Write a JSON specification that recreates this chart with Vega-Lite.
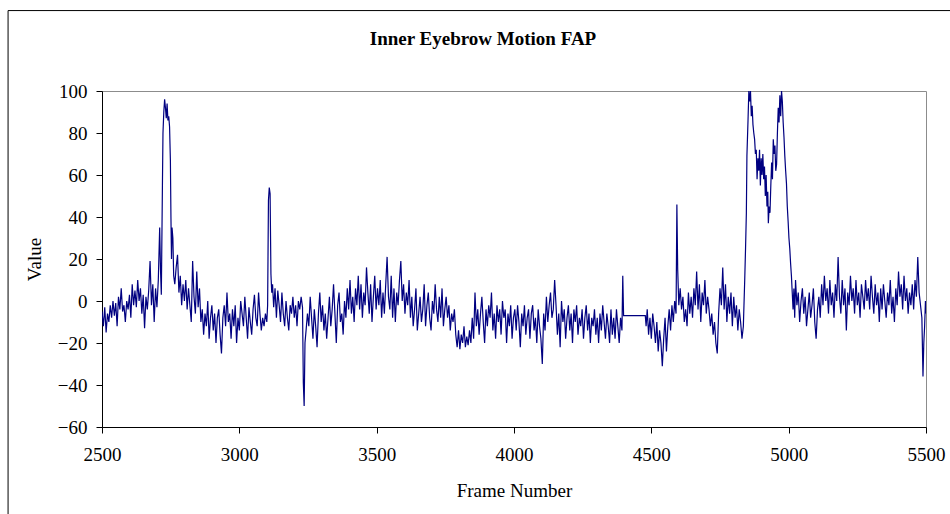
{
"$schema": "https://vega.github.io/schema/vega-lite/v6.json",
"width": 824, "height": 336,
"autosize": "none",
"padding": {"left": 102, "top": 91, "right": 24, "bottom": 87},
"background": "white",
"config": {"view": {"stroke": "#8c8c8c", "strokeWidth": 1}, "font": "Liberation Serif"},
"title": {"text": "Inner Eyebrow Motion FAP", "font": "Liberation Serif", "fontSize": 19, "fontWeight": "bold", "color": "black", "anchor": "middle", "frame": "group", "baseline": "alphabetic", "dx": -31, "offset": 0, "dy": 54},
"data": {"values": [
{"frame":2500,"value":-5},{"frame":2505,"value":-12},{"frame":2510,"value":-3},{"frame":2515,"value":-15},{"frame":2520,"value":-6},{"frame":2525,"value":-10},{"frame":2530,"value":-2},{"frame":2535,"value":-8},{"frame":2540,"value":0},{"frame":2545,"value":-7},{"frame":2550,"value":-1},{"frame":2555,"value":-12},{"frame":2560,"value":2},{"frame":2565,"value":-4},{"frame":2570,"value":6},{"frame":2575,"value":-5},{"frame":2580,"value":-2},{"frame":2585,"value":-10},{"frame":2590,"value":0},{"frame":2595,"value":-4},{"frame":2600,"value":3},{"frame":2605,"value":-8},{"frame":2610,"value":8},{"frame":2615,"value":-2},{"frame":2620,"value":5},{"frame":2625,"value":-3},{"frame":2630,"value":10},{"frame":2635,"value":0},{"frame":2640,"value":6},{"frame":2645,"value":-6},{"frame":2650,"value":3},{"frame":2655,"value":-13},{"frame":2660,"value":2},{"frame":2665,"value":-4},{"frame":2670,"value":5},{"frame":2675,"value":19},{"frame":2680,"value":-2},{"frame":2685,"value":8},{"frame":2690,"value":-10},{"frame":2695,"value":6},{"frame":2700,"value":-3},{"frame":2705,"value":10},{"frame":2710,"value":35},{"frame":2713,"value":15},{"frame":2716,"value":3},{"frame":2720,"value":55},{"frame":2722,"value":80},{"frame":2725,"value":90},{"frame":2728,"value":96},{"frame":2731,"value":92},{"frame":2734,"value":87},{"frame":2737,"value":94},{"frame":2740,"value":86},{"frame":2743,"value":88},{"frame":2746,"value":83},{"frame":2749,"value":67},{"frame":2751,"value":40},{"frame":2753,"value":20},{"frame":2755,"value":35},{"frame":2758,"value":30},{"frame":2761,"value":12},{"frame":2765,"value":8},{"frame":2770,"value":16},{"frame":2775,"value":22},{"frame":2780,"value":4},{"frame":2785,"value":12},{"frame":2790,"value":-2},{"frame":2795,"value":8},{"frame":2800,"value":0},{"frame":2805,"value":10},{"frame":2810,"value":-4},{"frame":2815,"value":6},{"frame":2820,"value":-2},{"frame":2825,"value":-10},{"frame":2830,"value":19},{"frame":2835,"value":2},{"frame":2840,"value":-6},{"frame":2845,"value":14},{"frame":2850,"value":-3},{"frame":2855,"value":6},{"frame":2860,"value":-10},{"frame":2865,"value":-4},{"frame":2870,"value":-16},{"frame":2875,"value":-6},{"frame":2880,"value":-12},{"frame":2885,"value":0},{"frame":2890,"value":-18},{"frame":2895,"value":-8},{"frame":2900,"value":-2},{"frame":2905,"value":-14},{"frame":2910,"value":-6},{"frame":2915,"value":-20},{"frame":2920,"value":-8},{"frame":2925,"value":-4},{"frame":2930,"value":-16},{"frame":2935,"value":-25},{"frame":2940,"value":-8},{"frame":2945,"value":-2},{"frame":2950,"value":-12},{"frame":2955,"value":4},{"frame":2960,"value":-10},{"frame":2965,"value":-6},{"frame":2970,"value":-18},{"frame":2975,"value":-4},{"frame":2980,"value":-12},{"frame":2985,"value":-2},{"frame":2990,"value":-20},{"frame":2995,"value":-8},{"frame":3000,"value":-14},{"frame":3005,"value":0},{"frame":3010,"value":-6},{"frame":3015,"value":-12},{"frame":3020,"value":2},{"frame":3025,"value":-8},{"frame":3030,"value":-18},{"frame":3035,"value":-3},{"frame":3040,"value":-10},{"frame":3045,"value":-16},{"frame":3050,"value":-4},{"frame":3055,"value":3},{"frame":3060,"value":-8},{"frame":3065,"value":-12},{"frame":3070,"value":4},{"frame":3075,"value":-6},{"frame":3080,"value":-14},{"frame":3085,"value":-8},{"frame":3090,"value":-12},{"frame":3095,"value":-6},{"frame":3100,"value":-10},{"frame":3103,"value":-2},{"frame":3106,"value":48},{"frame":3109,"value":54},{"frame":3112,"value":51},{"frame":3115,"value":13},{"frame":3118,"value":4},{"frame":3121,"value":8},{"frame":3125,"value":-3},{"frame":3130,"value":6},{"frame":3135,"value":-8},{"frame":3140,"value":5},{"frame":3145,"value":-2},{"frame":3150,"value":-10},{"frame":3155,"value":4},{"frame":3160,"value":-6},{"frame":3165,"value":-12},{"frame":3170,"value":0},{"frame":3175,"value":-8},{"frame":3180,"value":-14},{"frame":3185,"value":-2},{"frame":3190,"value":-6},{"frame":3195,"value":2},{"frame":3200,"value":-8},{"frame":3205,"value":-2},{"frame":3210,"value":-12},{"frame":3215,"value":0},{"frame":3220,"value":-4},{"frame":3225,"value":2},{"frame":3230,"value":-3},{"frame":3233,"value":-39},{"frame":3236,"value":-50},{"frame":3239,"value":-20},{"frame":3243,"value":-14},{"frame":3248,"value":-6},{"frame":3253,"value":-12},{"frame":3258,"value":2},{"frame":3263,"value":-8},{"frame":3268,"value":-18},{"frame":3273,"value":-4},{"frame":3278,"value":-12},{"frame":3283,"value":-22},{"frame":3288,"value":-6},{"frame":3293,"value":4},{"frame":3298,"value":-10},{"frame":3303,"value":-2},{"frame":3308,"value":-14},{"frame":3313,"value":-6},{"frame":3318,"value":-18},{"frame":3323,"value":-8},{"frame":3328,"value":2},{"frame":3333,"value":-12},{"frame":3338,"value":-4},{"frame":3343,"value":8},{"frame":3348,"value":-6},{"frame":3353,"value":-20},{"frame":3358,"value":-2},{"frame":3363,"value":4},{"frame":3368,"value":-10},{"frame":3373,"value":-6},{"frame":3378,"value":-16},{"frame":3383,"value":0},{"frame":3388,"value":-8},{"frame":3393,"value":6},{"frame":3398,"value":-4},{"frame":3403,"value":10},{"frame":3408,"value":-6},{"frame":3413,"value":2},{"frame":3418,"value":-10},{"frame":3423,"value":6},{"frame":3428,"value":-2},{"frame":3433,"value":12},{"frame":3438,"value":-4},{"frame":3443,"value":8},{"frame":3448,"value":-8},{"frame":3453,"value":4},{"frame":3458,"value":-2},{"frame":3463,"value":16},{"frame":3468,"value":4},{"frame":3473,"value":-6},{"frame":3478,"value":8},{"frame":3483,"value":-10},{"frame":3488,"value":2},{"frame":3493,"value":12},{"frame":3498,"value":-4},{"frame":3503,"value":6},{"frame":3508,"value":-2},{"frame":3513,"value":10},{"frame":3518,"value":-8},{"frame":3523,"value":4},{"frame":3528,"value":-6},{"frame":3533,"value":8},{"frame":3538,"value":21},{"frame":3543,"value":2},{"frame":3548,"value":-4},{"frame":3553,"value":12},{"frame":3558,"value":-8},{"frame":3563,"value":6},{"frame":3568,"value":-10},{"frame":3573,"value":4},{"frame":3578,"value":-2},{"frame":3583,"value":10},{"frame":3588,"value":19},{"frame":3593,"value":0},{"frame":3598,"value":8},{"frame":3603,"value":-6},{"frame":3608,"value":4},{"frame":3613,"value":-2},{"frame":3618,"value":10},{"frame":3623,"value":-8},{"frame":3628,"value":2},{"frame":3633,"value":-12},{"frame":3638,"value":-4},{"frame":3643,"value":6},{"frame":3648,"value":-14},{"frame":3653,"value":-6},{"frame":3658,"value":2},{"frame":3663,"value":-10},{"frame":3668,"value":-4},{"frame":3673,"value":8},{"frame":3678,"value":-12},{"frame":3683,"value":-2},{"frame":3688,"value":4},{"frame":3693,"value":-8},{"frame":3698,"value":-14},{"frame":3703,"value":0},{"frame":3708,"value":-6},{"frame":3713,"value":8},{"frame":3718,"value":-4},{"frame":3723,"value":-10},{"frame":3728,"value":2},{"frame":3733,"value":-8},{"frame":3738,"value":6},{"frame":3743,"value":-12},{"frame":3748,"value":-4},{"frame":3753,"value":2},{"frame":3758,"value":-8},{"frame":3763,"value":-2},{"frame":3768,"value":-14},{"frame":3773,"value":-6},{"frame":3778,"value":-10},{"frame":3783,"value":-4},{"frame":3788,"value":-16},{"frame":3793,"value":-22},{"frame":3798,"value":-14},{"frame":3803,"value":-23},{"frame":3808,"value":-16},{"frame":3813,"value":-20},{"frame":3818,"value":-12},{"frame":3823,"value":-22},{"frame":3828,"value":-17},{"frame":3833,"value":-21},{"frame":3838,"value":-14},{"frame":3843,"value":-20},{"frame":3848,"value":-8},{"frame":3853,"value":-18},{"frame":3858,"value":4},{"frame":3863,"value":-12},{"frame":3868,"value":-4},{"frame":3873,"value":-16},{"frame":3878,"value":-6},{"frame":3883,"value":2},{"frame":3888,"value":-10},{"frame":3893,"value":-20},{"frame":3898,"value":-4},{"frame":3903,"value":-12},{"frame":3908,"value":-2},{"frame":3913,"value":-8},{"frame":3918,"value":4},{"frame":3923,"value":-14},{"frame":3928,"value":-6},{"frame":3933,"value":-18},{"frame":3938,"value":-2},{"frame":3943,"value":-10},{"frame":3948,"value":-4},{"frame":3953,"value":-16},{"frame":3958,"value":0},{"frame":3963,"value":-8},{"frame":3968,"value":-4},{"frame":3973,"value":-20},{"frame":3978,"value":-6},{"frame":3983,"value":-12},{"frame":3988,"value":-2},{"frame":3993,"value":-18},{"frame":3998,"value":-8},{"frame":4003,"value":-4},{"frame":4008,"value":-14},{"frame":4013,"value":-2},{"frame":4018,"value":-10},{"frame":4023,"value":-22},{"frame":4028,"value":-6},{"frame":4033,"value":-12},{"frame":4038,"value":-2},{"frame":4043,"value":-16},{"frame":4048,"value":-8},{"frame":4053,"value":-4},{"frame":4058,"value":-18},{"frame":4063,"value":-6},{"frame":4068,"value":-2},{"frame":4073,"value":-14},{"frame":4078,"value":-8},{"frame":4083,"value":-20},{"frame":4088,"value":-4},{"frame":4093,"value":-12},{"frame":4098,"value":-18},{"frame":4103,"value":-30},{"frame":4108,"value":-6},{"frame":4113,"value":-14},{"frame":4118,"value":2},{"frame":4123,"value":-10},{"frame":4128,"value":-2},{"frame":4133,"value":4},{"frame":4138,"value":-8},{"frame":4143,"value":-4},{"frame":4148,"value":10},{"frame":4153,"value":-2},{"frame":4158,"value":-16},{"frame":4163,"value":-6},{"frame":4168,"value":-22},{"frame":4173,"value":0},{"frame":4178,"value":-10},{"frame":4183,"value":-4},{"frame":4188,"value":-18},{"frame":4193,"value":-8},{"frame":4198,"value":-2},{"frame":4203,"value":-14},{"frame":4208,"value":-6},{"frame":4213,"value":-20},{"frame":4218,"value":-4},{"frame":4223,"value":-10},{"frame":4228,"value":-2},{"frame":4233,"value":-16},{"frame":4238,"value":-8},{"frame":4243,"value":-12},{"frame":4248,"value":-4},{"frame":4253,"value":-18},{"frame":4258,"value":-8},{"frame":4263,"value":-2},{"frame":4268,"value":-14},{"frame":4273,"value":-6},{"frame":4278,"value":-20},{"frame":4283,"value":-8},{"frame":4288,"value":-12},{"frame":4293,"value":-4},{"frame":4298,"value":-16},{"frame":4303,"value":-8},{"frame":4308,"value":-20},{"frame":4313,"value":-6},{"frame":4318,"value":-14},{"frame":4323,"value":-2},{"frame":4328,"value":-10},{"frame":4333,"value":-18},{"frame":4338,"value":-6},{"frame":4343,"value":-12},{"frame":4348,"value":-20},{"frame":4353,"value":-4},{"frame":4358,"value":-16},{"frame":4363,"value":-8},{"frame":4368,"value":-18},{"frame":4373,"value":-4},{"frame":4378,"value":-12},{"frame":4383,"value":-20},{"frame":4388,"value":-8},{"frame":4393,"value":-14},{"frame":4396,"value":12},{"frame":4399,"value":-7},{"frame":4478,"value":-7},{"frame":4481,"value":-12},{"frame":4485,"value":-4},{"frame":4490,"value":-16},{"frame":4495,"value":-8},{"frame":4500,"value":-18},{"frame":4505,"value":-6},{"frame":4510,"value":-12},{"frame":4515,"value":-20},{"frame":4520,"value":-10},{"frame":4525,"value":-24},{"frame":4530,"value":-14},{"frame":4535,"value":-20},{"frame":4540,"value":-31},{"frame":4545,"value":-18},{"frame":4550,"value":-8},{"frame":4555,"value":-24},{"frame":4560,"value":-12},{"frame":4565,"value":-4},{"frame":4570,"value":-14},{"frame":4575,"value":-2},{"frame":4580,"value":-10},{"frame":4585,"value":0},{"frame":4590,"value":-6},{"frame":4593,"value":46},{"frame":4596,"value":15},{"frame":4600,"value":-2},{"frame":4605,"value":6},{"frame":4610,"value":-4},{"frame":4615,"value":2},{"frame":4620,"value":-10},{"frame":4625,"value":-4},{"frame":4630,"value":-12},{"frame":4635,"value":4},{"frame":4640,"value":-6},{"frame":4645,"value":2},{"frame":4650,"value":-8},{"frame":4655,"value":6},{"frame":4660,"value":-2},{"frame":4665,"value":14},{"frame":4670,"value":-4},{"frame":4675,"value":8},{"frame":4680,"value":-10},{"frame":4685,"value":4},{"frame":4690,"value":-2},{"frame":4695,"value":10},{"frame":4700,"value":-6},{"frame":4705,"value":2},{"frame":4710,"value":-4},{"frame":4715,"value":-12},{"frame":4720,"value":-6},{"frame":4725,"value":-16},{"frame":4730,"value":-10},{"frame":4735,"value":-20},{"frame":4740,"value":-25},{"frame":4745,"value":-6},{"frame":4750,"value":6},{"frame":4755,"value":-2},{"frame":4760,"value":16},{"frame":4765,"value":-4},{"frame":4770,"value":8},{"frame":4775,"value":-10},{"frame":4780,"value":2},{"frame":4785,"value":-6},{"frame":4790,"value":4},{"frame":4795,"value":-12},{"frame":4800,"value":2},{"frame":4805,"value":-8},{"frame":4810,"value":-2},{"frame":4815,"value":-14},{"frame":4820,"value":-4},{"frame":4825,"value":-10},{"frame":4830,"value":-18},{"frame":4835,"value":-12},{"frame":4840,"value":10},{"frame":4843,"value":25},{"frame":4846,"value":42},{"frame":4848,"value":69},{"frame":4852,"value":86},{"frame":4855,"value":100},{"frame":4858,"value":95},{"frame":4861,"value":100},{"frame":4864,"value":88},{"frame":4867,"value":93},{"frame":4870,"value":84},{"frame":4873,"value":80},{"frame":4876,"value":77},{"frame":4879,"value":70},{"frame":4882,"value":72},{"frame":4885,"value":58},{"frame":4888,"value":68},{"frame":4891,"value":62},{"frame":4894,"value":72},{"frame":4897,"value":55},{"frame":4900,"value":68},{"frame":4903,"value":60},{"frame":4906,"value":70},{"frame":4909,"value":58},{"frame":4912,"value":64},{"frame":4915,"value":50},{"frame":4918,"value":60},{"frame":4921,"value":45},{"frame":4924,"value":52},{"frame":4926,"value":37},{"frame":4929,"value":45},{"frame":4932,"value":42},{"frame":4935,"value":55},{"frame":4938,"value":66},{"frame":4941,"value":58},{"frame":4944,"value":77},{"frame":4947,"value":70},{"frame":4950,"value":74},{"frame":4953,"value":62},{"frame":4956,"value":65},{"frame":4959,"value":80},{"frame":4962,"value":92},{"frame":4965,"value":85},{"frame":4968,"value":98},{"frame":4971,"value":88},{"frame":4974,"value":100},{"frame":4977,"value":95},{"frame":4980,"value":85},{"frame":4983,"value":78},{"frame":4986,"value":69},{"frame":4989,"value":62},{"frame":4992,"value":56},{"frame":4995,"value":45},{"frame":4998,"value":38},{"frame":5001,"value":30},{"frame":5004,"value":25},{"frame":5007,"value":18},{"frame":5010,"value":12},{"frame":5013,"value":4},{"frame":5016,"value":-4},{"frame":5019,"value":6},{"frame":5022,"value":-8},{"frame":5025,"value":10},{"frame":5030,"value":-2},{"frame":5035,"value":4},{"frame":5040,"value":-10},{"frame":5045,"value":0},{"frame":5050,"value":6},{"frame":5055,"value":-6},{"frame":5060,"value":2},{"frame":5065,"value":-12},{"frame":5070,"value":-4},{"frame":5075,"value":4},{"frame":5080,"value":-8},{"frame":5085,"value":-2},{"frame":5090,"value":6},{"frame":5095,"value":-10},{"frame":5100,"value":-18},{"frame":5105,"value":-4},{"frame":5110,"value":2},{"frame":5115,"value":-8},{"frame":5120,"value":8},{"frame":5125,"value":-2},{"frame":5130,"value":12},{"frame":5135,"value":0},{"frame":5140,"value":6},{"frame":5145,"value":-6},{"frame":5150,"value":10},{"frame":5155,"value":-2},{"frame":5160,"value":4},{"frame":5165,"value":-8},{"frame":5170,"value":8},{"frame":5175,"value":0},{"frame":5180,"value":21},{"frame":5185,"value":2},{"frame":5190,"value":-6},{"frame":5195,"value":10},{"frame":5200,"value":-2},{"frame":5205,"value":6},{"frame":5210,"value":-14},{"frame":5215,"value":4},{"frame":5220,"value":-2},{"frame":5225,"value":12},{"frame":5230,"value":0},{"frame":5235,"value":6},{"frame":5240,"value":-6},{"frame":5245,"value":10},{"frame":5250,"value":-2},{"frame":5255,"value":4},{"frame":5260,"value":-8},{"frame":5265,"value":8},{"frame":5270,"value":2},{"frame":5275,"value":-4},{"frame":5280,"value":10},{"frame":5285,"value":0},{"frame":5290,"value":6},{"frame":5295,"value":-4},{"frame":5300,"value":12},{"frame":5305,"value":2},{"frame":5310,"value":-6},{"frame":5315,"value":8},{"frame":5320,"value":-2},{"frame":5325,"value":4},{"frame":5330,"value":-10},{"frame":5335,"value":6},{"frame":5340,"value":-4},{"frame":5345,"value":8},{"frame":5350,"value":0},{"frame":5355,"value":-8},{"frame":5360,"value":4},{"frame":5365,"value":-2},{"frame":5370,"value":10},{"frame":5375,"value":-6},{"frame":5380,"value":2},{"frame":5385,"value":-10},{"frame":5390,"value":6},{"frame":5395,"value":-2},{"frame":5400,"value":14},{"frame":5405,"value":2},{"frame":5410,"value":8},{"frame":5415,"value":-4},{"frame":5420,"value":12},{"frame":5425,"value":0},{"frame":5430,"value":6},{"frame":5435,"value":-6},{"frame":5440,"value":4},{"frame":5445,"value":-2},{"frame":5450,"value":8},{"frame":5455,"value":-4},{"frame":5460,"value":10},{"frame":5465,"value":2},{"frame":5470,"value":21},{"frame":5475,"value":4},{"frame":5480,"value":-2},{"frame":5485,"value":-8},{"frame":5489,"value":-36},{"frame":5492,"value":-20},{"frame":5495,"value":-12},{"frame":5498,"value":0},{"frame":5500,"value":-6}
]},
"layer": [
{
"mark": {"type": "line", "color": "#000080", "strokeWidth": 1.2, "clip": true},
"encoding": {
"x": {"field": "frame", "type": "quantitative",
 "scale": {"domain": [2500, 5500], "nice": false, "zero": false},
 "axis": {"values": [2500, 3000, 3500, 4000, 4500, 5000, 5500], "format": "d", "grid": false,
  "title": "Frame Number", "titleFont": "Liberation Serif", "titleFontSize": 19, "titleFontWeight": "normal", "titleColor": "black", "titlePadding": 17,
  "labelFont": "Liberation Serif", "labelFontSize": 19, "labelColor": "black", "labelPadding": 12, "labelFlush": false,
  "tickSize": 6, "tickColor": "black", "domainColor": "black"}},
"y": {"field": "value", "type": "quantitative",
 "scale": {"domain": [-60, 100], "nice": false, "zero": false},
 "axis": {"values": [-60, -40, -20, 0, 20, 40, 60, 80, 100], "grid": false,
  "title": "Value", "titleFont": "Liberation Serif", "titleFontSize": 19, "titleFontWeight": "normal", "titleColor": "black", "titlePadding": 13,
  "labelFont": "Liberation Serif", "labelFontSize": 19, "labelColor": "black", "labelPadding": 9,
  "tickSize": 6, "tickColor": "black", "domainColor": "black"}}
}
},
{
"data": {"values": [{}]},
"mark": {"type": "rect", "fill": null, "stroke": "black", "strokeWidth": 1, "clip": false},
"encoding": {
"x": {"datum": 2158}, "x2": {"datum": 5650},
"y": {"datum": 138.3}, "y2": {"datum": -110}
}
}
]
}
